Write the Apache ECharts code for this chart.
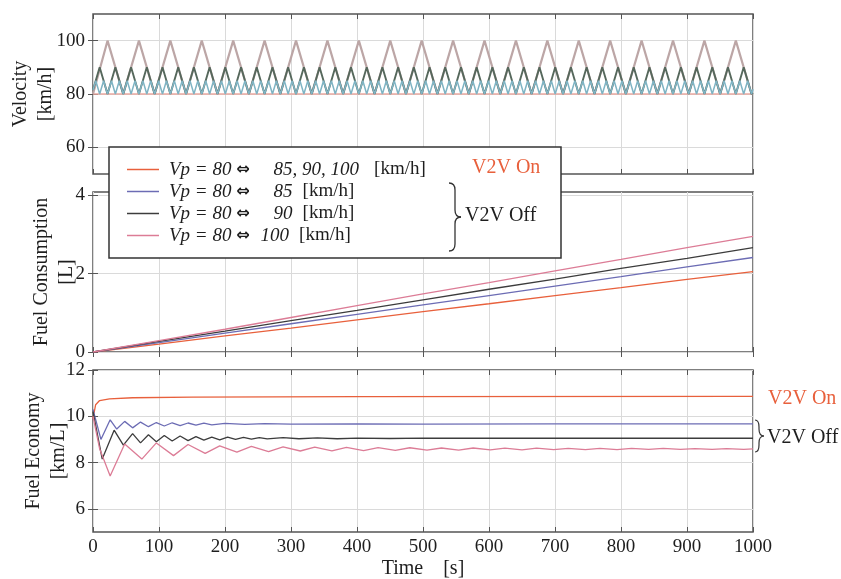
<!DOCTYPE html>
<html>
<head>
<meta charset="utf-8">
<script src="https://cdn.jsdelivr.net/npm/echarts@6/dist/echarts.min.js"></script>
<style>
html,body{margin:0;padding:0;background:#fff}
#chart{width:841px;height:579px}
</style>
</head>
<body>
<div id="chart"></div>
<script>
// ---- series labels ----
const seriesNames = ['Vp = 80 ⇔ 85, 90, 100 [km/h]', 'Vp = 80 ⇔ 85 [km/h]', 'Vp = 80 ⇔ 90 [km/h]', 'Vp = 80 ⇔ 100 [km/h]'];
const legendLead = 'Vp = 80 ';
const legendTarget = ['85, 90, 100', '85', '90', '100'];
const legendUnit = '[km/h]';

// ---- axis ticks ----
const timeTicks = [0, 100, 200, 300, 400, 500, 600, 700, 800, 900, 1000];
const velocityTicks = [60, 80, 100];
const consumptionTicks = [0, 2, 4];
const economyTicks = [6, 8, 10, 12];

// ---- velocity [km/h] vs time [s] ----
const speedOn = [[0, 80], [1000, 80]];
const speed100 = [[0,80],[22,100],[45.8,80],[69.6,100],[93.4,80],[117.2,100],[141,80],[164.8,100],[188.6,80],[212.4,100],[236.2,80],[260,100],[283.8,80],[307.6,100],[331.4,80],[355.2,100],[379,80],[402.8,100],[426.6,80],[450.4,100],[474.2,80],[498,100],[521.8,80],[545.6,100],[569.4,80],[593.2,100],[617,80],[640.8,100],[664.6,80],[688.4,100],[712.2,80],[736,100],[759.8,80],[783.6,100],[807.4,80],[831.2,100],[855,80],[878.8,100],[902.6,80],[926.4,100],[950.2,80],[974,100],[997.8,80],[1000,80.2]];
const speed90 = [[0,81.5],[10.1,90],[22,80],[33.9,90],[45.8,80],[57.7,90],[69.6,80],[81.5,90],[93.4,80],[105.3,90],[117.2,80],[129.1,90],[141,80],[152.9,90],[164.8,80],[176.7,90],[188.6,80],[200.5,90],[212.4,80],[224.3,90],[236.2,80],[248.1,90],[260,80],[271.9,90],[283.8,80],[295.7,90],[307.6,80],[319.5,90],[331.4,80],[343.3,90],[355.2,80],[367.1,90],[379,80],[390.9,90],[402.8,80],[414.7,90],[426.6,80],[438.5,90],[450.4,80],[462.3,90],[474.2,80],[486.1,90],[498,80],[509.9,90],[521.8,80],[533.7,90],[545.6,80],[557.5,90],[569.4,80],[581.3,90],[593.2,80],[605.1,90],[617,80],[628.9,90],[640.8,80],[652.7,90],[664.6,80],[676.5,90],[688.4,80],[700.3,90],[712.2,80],[724.1,90],[736,80],[747.9,90],[759.8,80],[771.7,90],[783.6,80],[795.5,90],[807.4,80],[819.3,90],[831.2,80],[843.1,90],[855,80],[866.9,90],[878.8,80],[890.7,90],[902.6,80],[914.5,90],[926.4,80],[938.3,90],[950.2,80],[962.1,90],[974,80],[985.9,90],[997.8,80],[1000,80.4]];
const speed85 = [[0,81.5],[4.2,85],[10.1,80],[16.1,85],[22,80],[28,85],[33.9,80],[39.9,85],[45.8,80],[51.8,85],[57.7,80],[63.7,85],[69.6,80],[75.6,85],[81.5,80],[87.5,85],[93.4,80],[99.4,85],[105.3,80],[111.3,85],[117.2,80],[123.2,85],[129.1,80],[135.1,85],[141,80],[147,85],[152.9,80],[158.9,85],[164.8,80],[170.8,85],[176.7,80],[182.7,85],[188.6,80],[194.6,85],[200.5,80],[206.5,85],[212.4,80],[218.4,85],[224.3,80],[230.3,85],[236.2,80],[242.2,85],[248.1,80],[254.1,85],[260,80],[266,85],[271.9,80],[277.9,85],[283.8,80],[289.8,85],[295.7,80],[301.7,85],[307.6,80],[313.6,85],[319.5,80],[325.5,85],[331.4,80],[337.4,85],[343.3,80],[349.3,85],[355.2,80],[361.2,85],[367.1,80],[373.1,85],[379,80],[385,85],[390.9,80],[396.9,85],[402.8,80],[408.8,85],[414.7,80],[420.7,85],[426.6,80],[432.6,85],[438.5,80],[444.5,85],[450.4,80],[456.4,85],[462.3,80],[468.3,85],[474.2,80],[480.2,85],[486.1,80],[492.1,85],[498,80],[504,85],[509.9,80],[515.9,85],[521.8,80],[527.8,85],[533.7,80],[539.7,85],[545.6,80],[551.6,85],[557.5,80],[563.5,85],[569.4,80],[575.4,85],[581.3,80],[587.3,85],[593.2,80],[599.2,85],[605.1,80],[611.1,85],[617,80],[623,85],[628.9,80],[634.9,85],[640.8,80],[646.8,85],[652.7,80],[658.7,85],[664.6,80],[670.6,85],[676.5,80],[682.5,85],[688.4,80],[694.4,85],[700.3,80],[706.3,85],[712.2,80],[718.2,85],[724.1,80],[730.1,85],[736,80],[742,85],[747.9,80],[753.9,85],[759.8,80],[765.8,85],[771.7,80],[777.7,85],[783.6,80],[789.6,85],[795.5,80],[801.5,85],[807.4,80],[813.4,85],[819.3,80],[825.3,85],[831.2,80],[837.2,85],[843.1,80],[849.1,85],[855,80],[861,85],[866.9,80],[872.9,85],[878.8,80],[884.8,85],[890.7,80],[896.7,85],[902.6,80],[908.6,85],[914.5,80],[920.5,85],[926.4,80],[932.4,85],[938.3,80],[944.3,85],[950.2,80],[956.2,85],[962.1,80],[968.1,85],[974,80],[980,85],[985.9,80],[991.9,85],[997.8,80],[1000,81.8]];

// ---- fuel consumption [L] vs time [s] ----
const fuelOn = [[0,0],[100,0.2],[200,0.41],[300,0.61],[400,0.82],[500,1.03],[600,1.23],[700,1.44],[800,1.64],[900,1.85],[1000,2.05]];
const fuel85 = [[0,0],[100,0.24],[200,0.48],[300,0.72],[400,0.96],[500,1.2],[600,1.44],[700,1.68],[800,1.92],[900,2.17],[1000,2.41]];
const fuel90 = [[0,0],[100,0.27],[200,0.53],[300,0.8],[400,1.06],[500,1.33],[600,1.6],[700,1.86],[800,2.13],[900,2.39],[1000,2.66]];
const fuel100 = [[0,0],[100,0.29],[200,0.58],[300,0.88],[400,1.18],[500,1.48],[600,1.77],[700,2.07],[800,2.36],[900,2.66],[1000,2.95]];

// ---- fuel economy [km/L] vs time [s] ----
const economyOn = [[0,9.9],[4,10.5],[10,10.68],[25,10.75],[60,10.8],[150,10.83],[400,10.85],[1000,10.86]];
const economy85 = [[0,10.3],[12,9.0],[26,9.85],[36,9.45],[48,9.78],[60,9.5],[72,9.75],[84,9.55],[96,9.73],[108,9.58],[120,9.72],[132,9.6],[144,9.71],[156,9.62],[168,9.7],[180,9.63],[200,9.69],[230,9.65],[260,9.68],[300,9.66],[400,9.67],[500,9.66],[700,9.67],[1000,9.67]];
const economy90 = [[0,10.2],[14,8.15],[32,9.4],[46,8.75],[60,9.25],[72,8.85],[84,9.2],[96,8.9],[108,9.17],[120,8.93],[132,9.15],[144,8.95],[156,9.12],[168,8.97],[180,9.1],[192,8.98],[204,9.1],[216,9.0],[228,9.09],[240,9.01],[252,9.08],[264,9.02],[288,9.08],[312,9.03],[340,9.07],[370,9.03],[400,9.06],[450,9.04],[500,9.06],[600,9.05],[800,9.05],[1000,9.05]];
const economy100 = [[0,10.0],[10,8.6],[26,7.42],[48,8.8],[74,8.15],[96,8.85],[122,8.3],[144,8.78],[170,8.4],[192,8.72],[218,8.45],[240,8.7],[266,8.47],[288,8.68],[314,8.5],[336,8.67],[362,8.51],[384,8.66],[410,8.52],[432,8.65],[458,8.53],[480,8.64],[506,8.54],[528,8.63],[554,8.54],[576,8.63],[602,8.55],[624,8.62],[650,8.55],[672,8.62],[698,8.56],[720,8.61],[746,8.56],[768,8.61],[794,8.56],[816,8.61],[842,8.57],[864,8.61],[890,8.57],[912,8.6],[938,8.57],[960,8.6],[986,8.57],[1000,8.59]];

// ---- styling ----
const FONT = '"Liberation Serif", "Times New Roman", serif';
const TEXT = '#1e1e1e';
const lineColors = ['#e8603c', '#6c6cb4', '#3c3c3c', '#dc7c96'];
const speedColors = ['#eaa8a0', '#7fb4c4', '#56685c', '#bca6a6'];

const chart = echarts.init(document.getElementById('chart'));

const panels = [
  { top: 14, height: 160, min: 50, max: 110, ticks: velocityTicks, name: 'Velocity\n[km/h]', gap: 35 },
  { top: 192, height: 160, min: 0, max: 4.08, ticks: consumptionTicks, name: 'Fuel Consumption\n[L]', gap: 14 },
  { top: 370, height: 162, min: 5, max: 12, ticks: economyTicks, name: 'Fuel Economy\n[km/L]', gap: 22 }
];

const grid = panels.map(p => ({
  left: 93, top: p.top, width: 660, height: p.height,
  outerBoundsMode: 'none', containLabel: false,
  show: true, borderColor: '#555', borderWidth: 1.5, backgroundColor: 'transparent'
}));

const tickStyle = { inside: true, length: 5, lineStyle: { color: '#555', width: 1 } };
const gridLine = { show: true, lineStyle: { color: '#dadada', width: 1 } };

const xAxis = [];
panels.forEach((p, i) => {
  xAxis.push({
    gridIndex: i, type: 'value', min: 0, max: 1000, interval: 100, position: 'bottom',
    axisLine: { show: false },
    axisTick: Object.assign({ customValues: timeTicks }, tickStyle),
    axisLabel: { show: i === 2, customValues: timeTicks, formatter: v => String(v),
                 fontFamily: FONT, fontSize: 19, color: TEXT, margin: 6 },
    splitLine: gridLine,
    name: i === 2 ? 'Time    [s]' : '', nameLocation: 'middle', nameGap: 27, nameMoveOverlap: false,
    nameTextStyle: { fontFamily: FONT, fontSize: 20, color: TEXT }
  });
});
panels.forEach((p, i) => {
  xAxis.push({
    gridIndex: i, type: 'value', min: 0, max: 1000, interval: 100, position: 'top',
    axisLine: { show: false }, axisTick: tickStyle, axisLabel: { show: false }, splitLine: { show: false }
  });
});

const yAxis = [];
panels.forEach((p, i) => {
  yAxis.push({
    gridIndex: i, type: 'value', min: p.min, max: p.max, position: 'left',
    axisLine: { show: false },
    axisTick: Object.assign({ customValues: p.ticks }, tickStyle),
    axisLabel: { customValues: p.ticks, fontFamily: FONT, fontSize: 19, color: TEXT, margin: 8 },
    splitLine: gridLine,
    name: p.name, nameLocation: 'middle', nameRotate: 90, nameGap: p.gap, nameMoveOverlap: false,
    nameTextStyle: { fontFamily: FONT, fontSize: 20, lineHeight: 25, color: TEXT }
  });
});
panels.forEach((p, i) => {
  yAxis.push({
    gridIndex: i, type: 'value', min: p.min, max: p.max, position: 'right',
    axisLine: { show: false },
    axisTick: Object.assign({ customValues: p.ticks }, tickStyle),
    axisLabel: { show: false }, splitLine: { show: false }
  });
});

function line(name, data, panel, color, width) {
  return {
    name, type: 'line', data, xAxisIndex: panel, yAxisIndex: panel,
    symbol: 'none', animation: false, silent: true,
    lineStyle: { color, width }, itemStyle: { color }
  };
}

const series = [
  line(seriesNames[0], fuelOn, 1, lineColors[0], 1.3),
  line(seriesNames[1], fuel85, 1, lineColors[1], 1.3),
  line(seriesNames[2], fuel90, 1, lineColors[2], 1.3),
  line(seriesNames[3], fuel100, 1, lineColors[3], 1.3),
  line(seriesNames[0], economyOn, 2, lineColors[0], 1.3),
  line(seriesNames[1], economy85, 2, lineColors[1], 1.3),
  line(seriesNames[2], economy90, 2, lineColors[2], 1.3),
  line(seriesNames[3], economy100, 2, lineColors[3], 1.3),
  line(seriesNames[0], speedOn, 0, speedColors[0], 1.5),
  line(seriesNames[3], speed100, 0, speedColors[3], 2.2),
  line(seriesNames[2], speed90, 0, speedColors[2], 1.9),
  line(seriesNames[1], speed85, 0, speedColors[1], 1.5)
];

// each legend row gets its own spacing so the single targets line up in a column
const legendText = name => {
  const i = seriesNames.indexOf(name);
  return '{i|' + legendLead + '}{a|⇔}{t' + i + '|' + legendTarget[i] + '}{n' + (i === 0 ? 0 : 1) + '|' + legendUnit + '}';
};

// right-pointing curly brace built from quadratic curves and straight segments
function brace(x, y0, y1, depth, tip, width) {
  const mid = (y0 + y1) / 2;
  const r = Math.min(7, (y1 - y0) / 4);
  const xs = x + depth;
  const st = { stroke: '#333', lineWidth: width, fill: 'none' };
  const curve = (x1, y1_, x2, y2, cx, cy) =>
    ({ type: 'bezierCurve', z: 101, shape: { x1, y1: y1_, x2, y2, cpx1: cx, cpy1: cy }, style: st });
  const seg = (x1, y1_, x2, y2) =>
    ({ type: 'line', z: 101, shape: { x1, y1: y1_, x2, y2 }, style: st });
  return [
    curve(x, y0, xs, y0 + r, xs, y0),
    seg(xs, y0 + r, xs, mid - r),
    curve(xs, mid - r, xs + tip, mid, xs, mid),
    curve(xs + tip, mid, xs, mid + r, xs, mid),
    seg(xs, mid + r, xs, y1 - r),
    curve(xs, y1 - r, x, y1, xs, y1)
  ];
}

const italic = { fontFamily: FONT, fontSize: 19, fontStyle: 'italic', color: TEXT, lineHeight: 22 };
const upright = { fontFamily: FONT, fontSize: 19, color: TEXT, lineHeight: 22 };
const pad = left => ({ padding: [0, 0, 0, left] });

const option = {
  backgroundColor: '#fff',
  animation: false,
  grid, xAxis, yAxis, series,
  legend: {
    orient: 'vertical', left: 122, top: 155, z: 100,
    selectedMode: false,
    itemWidth: 32, itemHeight: 13, itemGap: 3,
    data: seriesNames.map((n, i) => ({ name: n, icon: 'path://M0,0L32,0L32,1.5L0,1.5Z', itemStyle: { color: lineColors[i] } })),
    formatter: legendText,
    textStyle: {
      padding: [0, 0, 0, 5],
      rich: {
        i: italic,
        a: { fontFamily: '"DejaVu Sans", sans-serif', fontSize: 16, fontWeight: 'bold', color: TEXT, lineHeight: 22 },
        t0: Object.assign(pad(24), italic),
        t1: Object.assign(pad(24), italic),
        t2: Object.assign(pad(24), italic),
        t3: Object.assign(pad(11), italic),
        n0: Object.assign(pad(15), upright),
        n1: Object.assign(pad(10), upright)
      }
    }
  },
  graphic: [
    { type: 'rect', z: 90, shape: { x: 109, y: 147, width: 452, height: 111 },
      style: { fill: '#fff', stroke: '#333', lineWidth: 1.5 } },
    { type: 'text', z: 101, x: 472, y: 168,
      style: { text: 'V2V On', fill: '#e8603c', font: '20px ' + FONT, verticalAlign: 'middle' } },
    { type: 'text', z: 101, x: 465, y: 216,
      style: { text: 'V2V Off', fill: TEXT, font: '20px ' + FONT, verticalAlign: 'middle' } },
    { type: 'text', z: 101, x: 768, y: 399,
      style: { text: 'V2V On', fill: '#e8603c', font: '20px ' + FONT, verticalAlign: 'middle' } },
    { type: 'text', z: 101, x: 767, y: 438,
      style: { text: 'V2V Off', fill: TEXT, font: '20px ' + FONT, verticalAlign: 'middle' } }
  ].concat(brace(449, 183, 251, 6, 6, 1.3), brace(755, 420, 452, 4, 5, 1.2))
};

chart.setOption(option);
</script>
</body>
</html>
